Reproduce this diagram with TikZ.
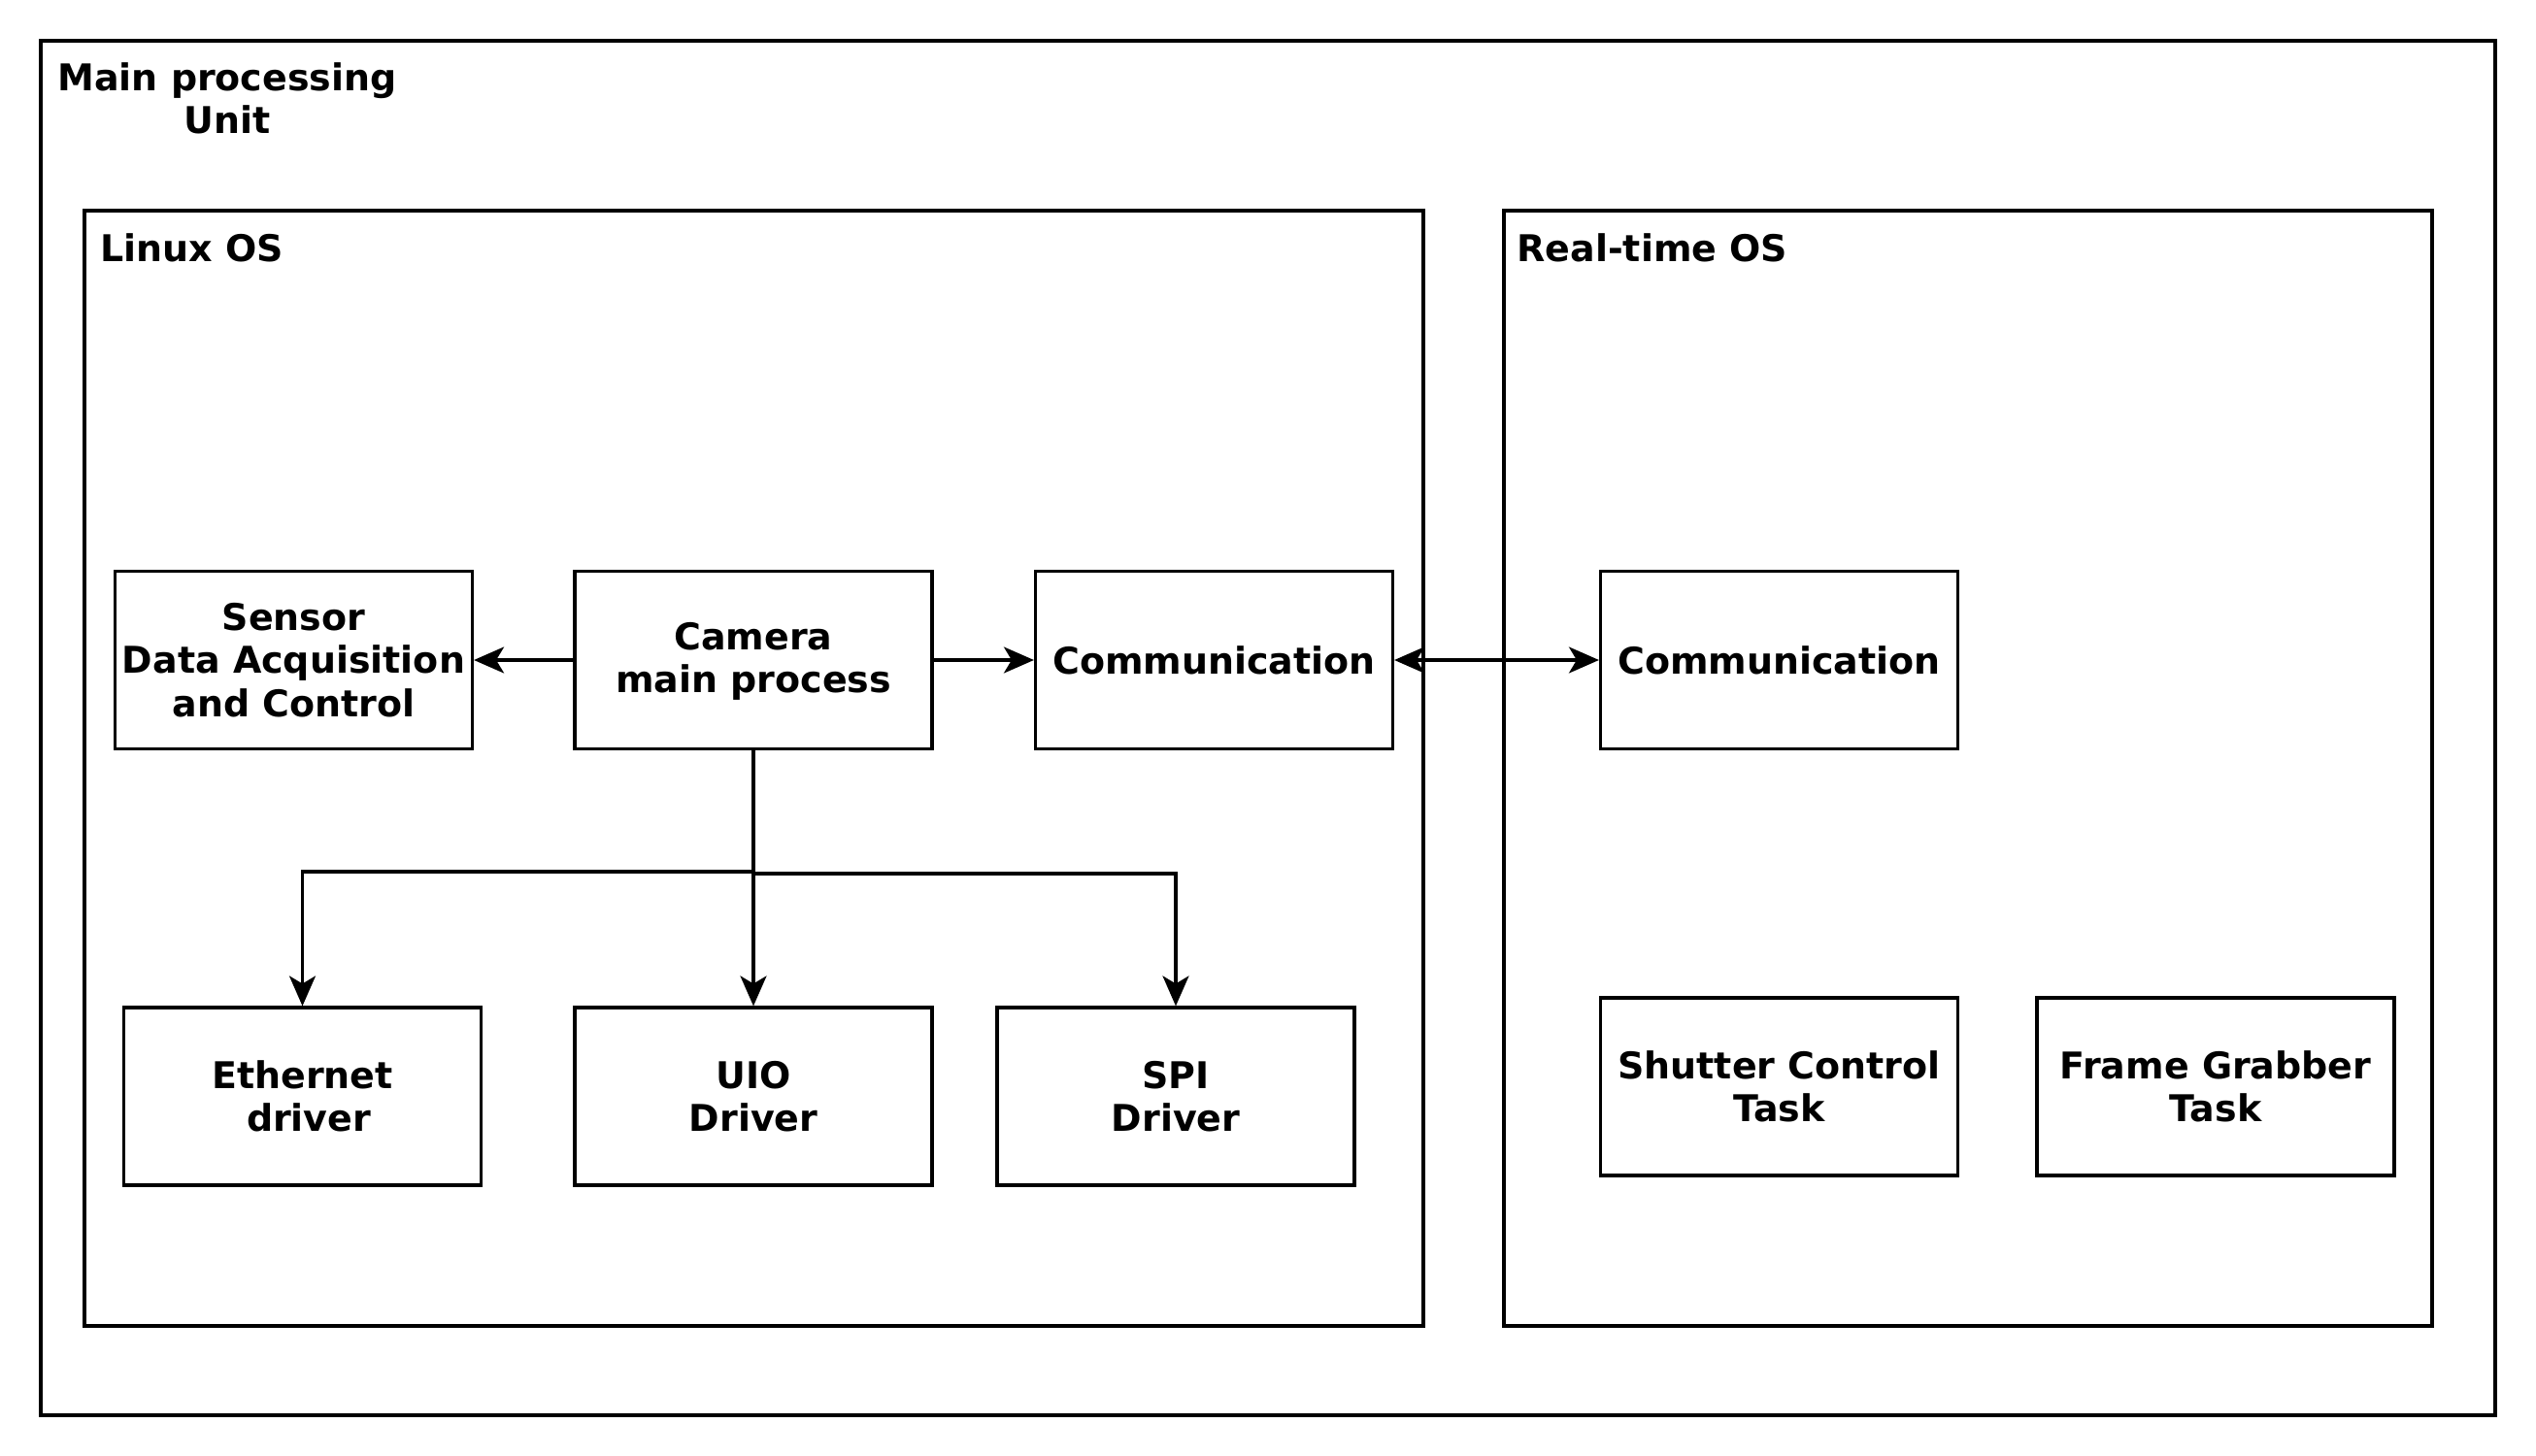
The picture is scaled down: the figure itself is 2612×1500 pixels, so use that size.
\documentclass[tikz,border=0pt]{standalone}
\usepackage{fontspec}
\setmainfont{DejaVu Sans}
\usetikzlibrary{arrows.meta}
\begin{document}
\begin{tikzpicture}[x=0.1mm,y=-0.1mm,
  line width=0.9pt,
  >={Stealth[length=3.1mm,width=2.7mm,inset=0.8mm]},
  txt/.style={font=\fontsize{10.8}{12.6}\selectfont\bfseries, align=center},
  box/.style={draw, rectangle, txt, minimum width=36.8mm, minimum height=18.3mm, inner sep=0pt},
  cont/.style={draw, rectangle, inner sep=0pt},
  lbl/.style={txt, inner sep=0pt}]
\useasboundingbox (0,0) rectangle (2612,1500);
% containers
\node[cont, minimum width=252.8mm, minimum height=141.6mm] (outer) at (1306,750) {};
\node[cont, minimum width=137.9mm, minimum height=114.9mm] (linux) at (776.5,791.5) {};
\node[cont, minimum width=95.6mm, minimum height=114.9mm] (rtos) at (2027,791.5) {};
\node[lbl] (mpu) at (234,101) {Main processing\\Unit};
\node[lbl, anchor=west] (linuxlbl) at (102,255) {Linux OS};
\node[lbl, anchor=west] (rtoslbl) at (1561,255) {Real-time OS};
% boxes
\node[box] (sensor) at (302.5,680) {Sensor\\Data Acquisition\\and Control};
\node[box] (camera) at (776,680) {\strut Camera\\main process};
\node[box] (comml) at (1250.5,680) {Communication};
\node[box] (commr) at (1832.5,680) {Communication};
\node[box] (eth) at (311.5,1129.5) {Ethernet\\~driver};
\node[box] (uio) at (776,1129.5) {UIO\\Driver};
\node[box] (spi) at (1211,1129.5) {SPI\\Driver};
\node[box] (shutter) at (1832.5,1119.5) {Shutter Control\\Task};
\node[box] (frame) at (2282,1119.5) {Frame Grabber\\Task};
% connectors
\coordinate (jl) at (776,898);
\coordinate (jr) at (776,900);
\draw[->] (camera.west) -- (sensor.east);
\draw[->] (camera.east) -- (comml.west);
\draw[<->] (comml.east) -- (commr.west);
\draw[->] (camera.south) -- (uio.north);
\draw[->] (camera.south) -- (jl) -| (eth.north);
\draw[->] (jr) -| (spi.north);
\end{tikzpicture}
\end{document}
